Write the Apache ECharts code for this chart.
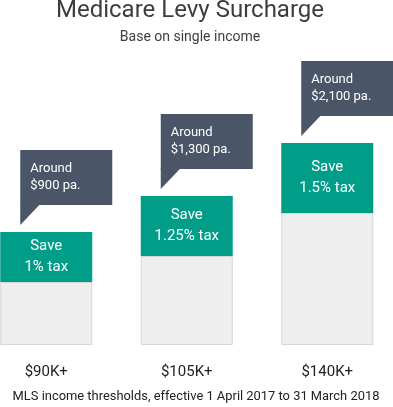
<!DOCTYPE html>
<html>
<head>
<meta charset="utf-8">
<script src="https://cdn.jsdelivr.net/npm/echarts@6/dist/echarts.min.js"></script>
<style>
html,body{margin:0;padding:0;background:#fff;}
#chart{width:393px;height:407px;}
</style>
</head>
<body>
<div id="chart"></div>
<script>
const categories = ['$90K+', '$105K+', '$140K+'];
const baseValues = [63, 89, 132];
const saveValues = [50, 60, 70];
const saveLabels = ['Save\n1% tax', 'Save\n1.25% tax', 'Save\n1.5% tax'];
const calloutLabels = ['Around\n$900 pa.', 'Around\n$1,300 pa.', 'Around\n$2,100 pa.'];
const titleText = 'Medicare Levy Surcharge';
const subtitleText = 'Base on single income';
const footnoteText = 'MLS income thresholds, effective 1 April 2017 to 31 March 2018';

const FONT = 'Roboto';
const chart = echarts.init(document.getElementById('chart'), null, {renderer: 'canvas'});

const totals = baseValues.map((v, i) => v + saveValues[i]);

chart.setOption({
  animation: false,
  backgroundColor: '#ffffff',
  title: [
    {
      text: titleText,
      subtext: subtitleText,
      left: 190, top: -2, textAlign: 'center', padding: 0, itemGap: 5,
      textStyle: {fontFamily: FONT, fontSize: 24, fontWeight: 'normal', color: '#3d3d3d', lineHeight: 26},
      subtextStyle: {fontFamily: FONT, fontSize: 14, color: '#3d3d3d', lineHeight: 16}
    },
    {
      text: footnoteText,
      left: 196, top: 389, textAlign: 'center', padding: 0,
      textStyle: {fontFamily: FONT, fontSize: 12.9, fontWeight: 'normal', color: '#222222', lineHeight: 16}
    }
  ],
  grid: {left: -24, width: 421.5, top: 0, bottom: 62, containLabel: false, outerBoundsMode: 'none'},
  xAxis: {
    type: 'category',
    data: categories,
    axisLine: {show: false},
    axisTick: {show: false},
    axisLabel: {margin: 19, fontFamily: FONT, fontSize: 15, color: '#222222', lineHeight: 16}
  },
  yAxis: {type: 'value', min: 0, max: 345, show: false, splitLine: {show: false}},
  series: [
    {
      type: 'bar', stack: 'a', barWidth: 92,
      data: baseValues,
      itemStyle: {color: '#eeeeee', borderColor: '#d6d6d6', borderWidth: 1},
      silent: true
    },
    {
      type: 'bar', stack: 'a', barWidth: 92,
      data: saveValues,
      itemStyle: {color: '#009e88'},
      label: {
        show: true, position: 'inside',
        formatter: p => saveLabels[p.dataIndex],
        color: '#ffffff', fontFamily: FONT, fontSize: 15, lineHeight: 21
      },
      silent: true
    },
    {
      type: 'custom',
      data: totals.map((t, i) => [i, t]),
      encode: {x: 0, y: 1},
      silent: true,
      z: 5,
      renderItem: function (params, api) {
        const idx = api.value(0);
        const pt = api.coord([idx, api.value(1)]);
        const left = pt[0] - 26;
        const tipY = pt[1] - 7;
        const boxBottom = tipY - 20;
        const boxTop = boxBottom - 55;
        const fill = '#4a5567';
        return {
          type: 'group',
          children: [
            {type: 'rect', shape: {x: left, y: boxTop, width: 92, height: 55}, style: {fill: fill}},
            {type: 'polygon', shape: {points: [[left, boxBottom - 1], [left + 20, boxBottom - 1], [left, tipY]]}, style: {fill: fill}},
            {type: 'text', x: left + 10, y: boxTop + 10.5,
              style: {text: calloutLabels[idx], fill: '#ffffff', fontFamily: FONT, fontSize: 13, lineHeight: 17, verticalAlign: 'top', align: 'left'}}
          ]
        };
      }
    }
  ]
});
</script>
</body>
</html>
